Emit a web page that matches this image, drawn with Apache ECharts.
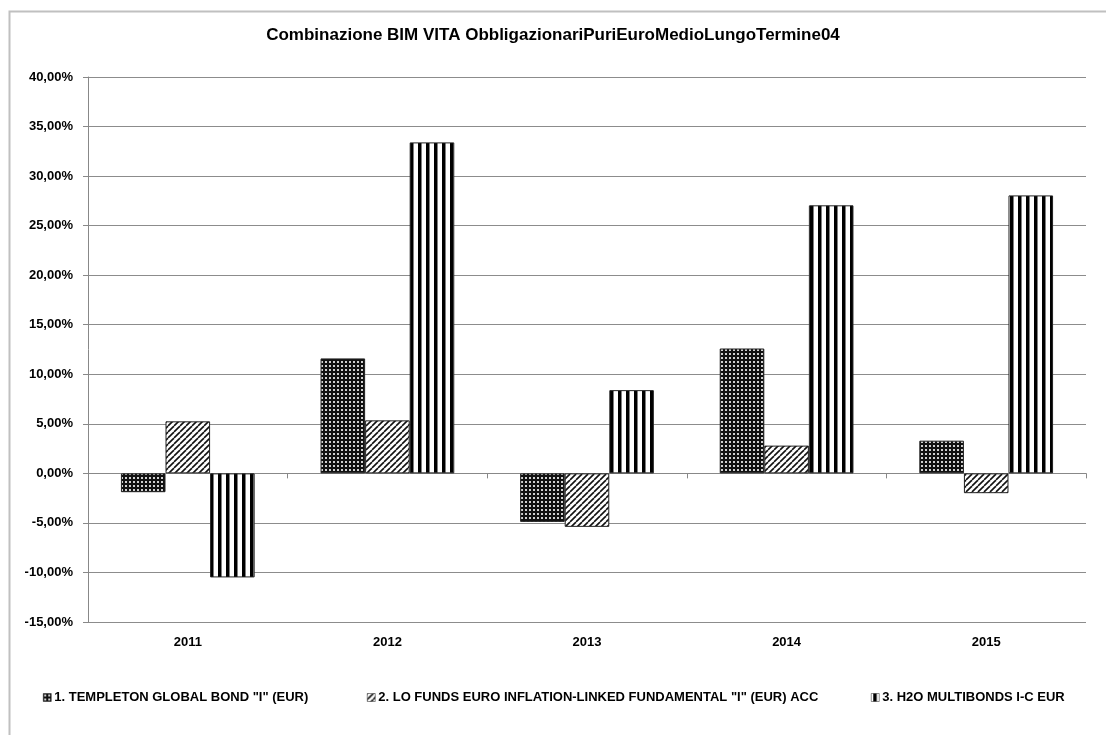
<!DOCTYPE html>
<html>
<head>
<meta charset="utf-8">
<script src="https://cdn.jsdelivr.net/npm/echarts@6/dist/echarts.min.js"></script>
<style>
html,body{margin:0;padding:0;background:#fff;}
#chart{width:1106px;height:735px;}
</style>
</head>
<body>
<div id="chart"></div>
<script>
const titleText = 'Combinazione BIM VITA ObbligazionariPuriEuroMedioLungoTermine04';
const categories = ['2011', '2012', '2013', '2014', '2015'];
const seriesNames = [
  '1. TEMPLETON GLOBAL BOND "I" (EUR)',
  '2. LO FUNDS EURO INFLATION-LINKED FUNDAMENTAL "I" (EUR) ACC',
  '3. H2O MULTIBONDS I-C EUR'
];
const templeton = [-1.9, 11.6, -4.9, 12.6, 3.3];
const loFunds = [5.25, 5.35, -5.4, 2.8, -2.0];
const h2o = [-10.5, 33.4, 8.4, 27.05, 28.05];
const yMin = -15, yMax = 40, yStep = 5;

function makeTile(w, h, draw) {
  const c = document.createElement('canvas');
  c.width = w; c.height = h;
  const ctx = c.getContext('2d');
  draw(ctx, w, h);
  return c;
}
const dotTile = makeTile(4, 4, (ctx, w, h) => {
  ctx.fillStyle = '#111'; ctx.fillRect(0, 0, w, h);
  ctx.fillStyle = '#d0d0d0'; ctx.fillRect(1, 1, 2, 2);
});
const diagTile = makeTile(6, 6, (ctx, w, h) => {
  ctx.fillStyle = '#fff'; ctx.fillRect(0, 0, w, h);
  ctx.strokeStyle = '#111'; ctx.lineWidth = 1.6;
  for (let o = -w; o <= w; o += w) {
    ctx.beginPath(); ctx.moveTo(o, h); ctx.lineTo(o + w, 0); ctx.stroke();
  }
});
const vertTile = makeTile(8, 8, (ctx, w, h) => {
  ctx.fillStyle = '#fff'; ctx.fillRect(0, 0, w, h);
  ctx.fillStyle = '#000'; ctx.fillRect(2, 0, 3.5, h);
});
const fills = [
  { image: dotTile, repeat: 'repeat' },
  { image: diagTile, repeat: 'repeat' },
  { image: vertTile, repeat: 'repeat' }
];
const seriesData = [templeton, loFunds, h2o];
const font = '"Liberation Sans", Arial, sans-serif';

const chart = echarts.init(document.getElementById('chart'), null, { renderer: 'canvas' });
const legendX = [38, 362, 866];
chart.setOption({
  animation: false,
  backgroundColor: '#fff',
  title: {
    text: titleText, left: 'center', top: 22,
    textStyle: { fontFamily: font, fontWeight: 'bold', fontSize: 17, color: '#000' }
  },
  legend: seriesNames.map((n, i) => ({
    data: [n], left: legendX[i], top: 686,
    icon: 'rect', itemWidth: 8, itemHeight: 8, itemGap: 4,
    textStyle: { fontFamily: font, fontWeight: 'bold', fontSize: 13, color: '#000', padding: [0, 0, 0, -2] },
    itemStyle: { borderColor: '#222', borderWidth: 0.5 }
  })),
  graphic: [{
    type: 'polyline', silent: true,
    shape: { points: [[9.5, 735], [9.5, 11.5], [1106, 11.5]] },
    style: { stroke: '#c0c0c0', lineWidth: 2, fill: null }
  }],
  grid: { left: 88, right: 20, top: 77, bottom: 113, containLabel: false },
  xAxis: [{
    type: 'category', data: categories,
    axisLine: { onZero: true, lineStyle: { color: '#888', width: 1 } },
    axisTick: { show: true, inside: false, length: 5, lineStyle: { color: '#888' } },
    axisLabel: { show: false }
  }, {
    type: 'category', data: categories, position: 'bottom',
    axisLine: { show: false, onZero: false }, axisTick: { show: false },
    axisLabel: { fontFamily: font, fontWeight: 'bold', fontSize: 13, color: '#000', margin: 14 }
  }],
  yAxis: {
    type: 'value', min: yMin, max: yMax, interval: yStep,
    axisLine: { show: true, lineStyle: { color: '#888' } },
    axisTick: { show: true, length: 5, lineStyle: { color: '#888' } },
    splitLine: { lineStyle: { color: '#8c8c8c', width: 1 } },
    axisLabel: {
      fontFamily: font, fontWeight: 'bold', fontSize: 13, color: '#000', margin: 15,
      formatter: v => v.toFixed(2).replace('.', ',') + '%'
    }
  },
  series: seriesData.map((d, i) => ({
    name: seriesNames[i], type: 'bar', data: d, xAxisIndex: 0,
    barGap: '0%', barCategoryGap: '33%',
    itemStyle: { color: fills[i], borderColor: '#222', borderWidth: 1 }
  }))
});
</script>
</body>
</html>
